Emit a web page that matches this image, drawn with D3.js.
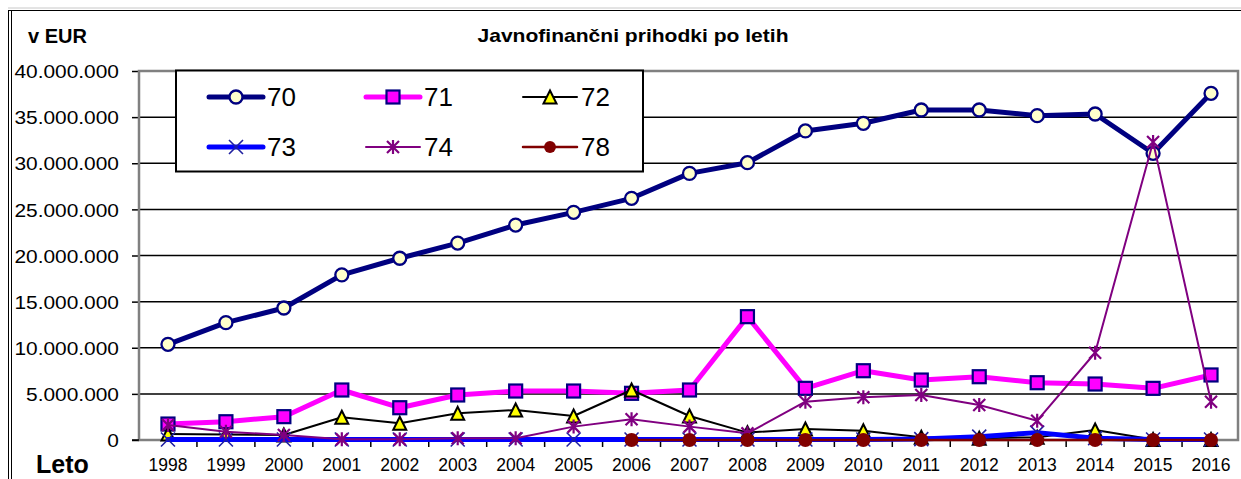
<!DOCTYPE html>
<html>
<head>
<meta charset="utf-8">
<script src="https://cdn.jsdelivr.net/npm/d3@7"></script>
<style>
  body { margin: 0; background: #fff; }
  text { font-family: "Liberation Sans", Arial, sans-serif; }
</style>
</head>
<body>
<svg id="chart" width="1241" height="479"></svg>
<script>
// data
var years = ["1998","1999","2000","2001","2002","2003","2004","2005","2006","2007","2008","2009","2010","2011","2012","2013","2014","2015","2016"];
var s70 = [10370000,12720000,14310000,17900000,19700000,21350000,23300000,24680000,26200000,28900000,30060000,33500000,34330000,35770000,35770000,35160000,35340000,31080000,37580000];
var s71 = [1730000,1980000,2530000,5420000,3500000,4880000,5310000,5310000,5060000,5420000,13370000,5600000,7510000,6500000,6860000,6210000,6070000,5600000,7050000];
var s72 = [650000,600000,540000,2460000,1810000,2890000,3250000,2600000,5420000,2600000,800000,1190000,1000000,300000,200000,300000,1080000,50000,50000];
var s73 = [50000,50000,50000,50000,50000,50000,50000,50000,50000,50000,50000,50000,50000,100000,360000,800000,200000,50000,50000];
var s74 = [1630000,900000,540000,70000,70000,180000,180000,1450000,2240000,1450000,720000,4150000,4630000,4880000,3790000,2090000,9460000,32300000,4150000];
var s78 = [null,null,null,null,null,null,null,null,0,0,0,0,0,0,0,0,0,0,0];
var seriesNames = ["70","71","72","73","74","78"];
var yTicks = [0,5000000,10000000,15000000,20000000,25000000,30000000,35000000,40000000];

var title = "Javnofinančni prihodki po letih";
var yUnit = "v EUR";
var xName = "Leto";

// looks of each series
var styles = {
  "70": {stroke: "#000080", width: 5, marker: "circle", fill: "#FFFFCC", mstroke: "#000080"},
  "71": {stroke: "#FF00FF", width: 5, marker: "square", fill: "#FF00FF", mstroke: "#000080"},
  "72": {stroke: "#000000", width: 2, marker: "triangle", fill: "#FFFF00", mstroke: "#000000"},
  "73": {stroke: "#0000FF", width: 5, marker: "x", fill: "none", mstroke: "#2020A0"},
  "74": {stroke: "#800080", width: 2, marker: "star", fill: "none", mstroke: "#800080"},
  "78": {stroke: "#800000", width: 2.5, marker: "dot", fill: "#800000", mstroke: "#800000"}
};
var allValues = [s70, s71, s72, s73, s74, s78];

var svg = d3.select("#chart");
var plotL = 139, plotR = 1238, plotT = 71, plotB = 440;

var x = d3.scaleBand().domain(years).range([plotL, 1240]);
var y = d3.scaleLinear().domain([0, 40000000]).range([plotB, plotT]);
function cx(d) { return x(d) + x.bandwidth() / 2; }

var loc = d3.formatLocale({decimal: ",", thousands: ".", grouping: [3], currency: ["", ""]});
var fmt = loc.format(",");

// outer frame
svg.append("line").attr("x1", 8).attr("x2", 1241).attr("y1", 8).attr("y2", 8).attr("stroke", "#c8c8c8");
svg.append("line").attr("x1", 8).attr("x2", 1241).attr("y1", 10.5).attr("y2", 10.5).attr("stroke", "#000");
svg.append("line").attr("x1", 8.5).attr("x2", 8.5).attr("y1", 10).attr("y2", 479).attr("stroke", "#000");
svg.append("line").attr("x1", 11.5).attr("x2", 11.5).attr("y1", 10).attr("y2", 479).attr("stroke", "#000");

// titles
svg.append("text").attr("x", 633).attr("y", 42).attr("text-anchor", "middle")
  .attr("font-size", 18).attr("font-weight", "bold")
  .attr("transform", "translate(633,0) scale(1.17,1) translate(-633,0)").text(title);
svg.append("text").attr("x", 28).attr("y", 43)
  .attr("font-size", 20).attr("font-weight", "bold").text(yUnit);
svg.append("text").attr("x", 36).attr("y", 473)
  .attr("font-size", 25).attr("font-weight", "bold").text(xName);

// gridlines
svg.append("g").selectAll("line")
  .data(yTicks.filter(function(t) { return t > 0 && t < 40000000; }))
  .enter().append("line")
  .attr("x1", plotL).attr("x2", plotR)
  .attr("y1", function(d) { return y(d); }).attr("y2", function(d) { return y(d); })
  .attr("stroke", "#000").attr("stroke-width", 1.5);

// y axis
var yAxis = svg.append("g").attr("transform", "translate(" + plotL + ",0)")
  .call(d3.axisLeft(y).tickValues(yTicks).tickFormat(fmt).tickSize(7).tickPadding(13));
yAxis.select(".domain").remove();
yAxis.selectAll(".tick line").attr("stroke", "#000").attr("stroke-width", 1.5);
// labels in the picture are drawn a bit wider than the font
yAxis.selectAll(".tick text").attr("font-size", 19).attr("font-family", "Liberation Sans, Arial, sans-serif")
  .attr("fill", "#000").attr("dy", "0.35em")
  .attr("x", 0).attr("transform", "translate(-20,0) scale(1.1,1)");

// x axis: ticks between categories
svg.append("g").selectAll("line")
  .data(years.slice(1))
  .enter().append("line")
  .attr("x1", function(d) { return x(d); }).attr("x2", function(d) { return x(d); })
  .attr("y1", plotB).attr("y2", plotB + 7)
  .attr("stroke", "#000").attr("stroke-width", 1.5);
svg.append("g").selectAll("text")
  .data(years)
  .enter().append("text")
  .attr("x", function(d) { return cx(d); }).attr("y", 471)
  .attr("text-anchor", "middle").attr("font-size", 17.5).text(function(d) { return d; });

// plot frame
svg.append("rect").attr("x", plotL).attr("y", plotT).attr("width", plotR - plotL).attr("height", plotB - plotT)
  .attr("fill", "none").attr("stroke", "#808080").attr("stroke-width", 2.5);
svg.append("line").attr("x1", plotL - 7).attr("x2", plotL).attr("y1", plotB).attr("y2", plotB)
  .attr("stroke", "#000").attr("stroke-width", 1.5);

//Draw one marker at the given point
function drawMarker(g, type, px, py, st, k) {
  var s = k || 1;
  if (type === "circle") {
    g.append("circle").attr("cx", px).attr("cy", py).attr("r", 6.5 * s)
      .attr("fill", st.fill).attr("stroke", st.mstroke).attr("stroke-width", 2.3);
  } else if (type === "square") {
    g.append("rect").attr("x", px - 6.5 * s).attr("y", py - 6.5 * s).attr("width", 13 * s).attr("height", 13 * s)
      .attr("fill", st.fill).attr("stroke", st.mstroke).attr("stroke-width", 2.2);
  } else if (type === "triangle") {
    var h = 6.5 * s;
    g.append("path").attr("d", "M" + px + "," + (py - h) + "L" + (px + h) + "," + (py + h) + "L" + (px - h) + "," + (py + h) + "Z")
      .attr("fill", st.fill).attr("stroke", st.mstroke).attr("stroke-width", 2);
  } else if (type === "x") {
    var a = 7 * s;
    g.append("path").attr("d", "M" + (px - a) + "," + (py - a) + "L" + (px + a) + "," + (py + a) +
      "M" + (px - a) + "," + (py + a) + "L" + (px + a) + "," + (py - a))
      .attr("stroke", st.mstroke).attr("stroke-width", 1.6).attr("fill", "none");
  } else if (type === "star") {
    var b = 6 * s;
    g.append("path").attr("d", "M" + (px - b) + "," + (py - b) + "L" + (px + b) + "," + (py + b) +
      "M" + (px - b) + "," + (py + b) + "L" + (px + b) + "," + (py - b) +
      "M" + px + "," + (py - b - 1) + "L" + px + "," + (py + b + 1))
      .attr("stroke", st.mstroke).attr("stroke-width", 2.2).attr("fill", "none");
  } else if (type === "dot") {
    g.append("circle").attr("cx", px).attr("cy", py).attr("r", 7 * s).attr("fill", st.fill);
  }
}

// series, in order so later ones sit on top
var line = d3.line()
  .defined(function(d) { return d.v !== null; })
  .x(function(d) { return cx(d.year); })
  .y(function(d) { return y(d.v); });

seriesNames.forEach(function(name, i) {
  var st = styles[name];
  var pts = years.map(function(yr, j) { return {year: yr, v: allValues[i][j]}; });
  var g = svg.append("g");
  g.append("path").datum(pts).attr("d", line)
    .attr("fill", "none").attr("stroke", st.stroke).attr("stroke-width", st.width)
    .attr("stroke-linejoin", "round").attr("stroke-linecap", "round");
  pts.filter(function(d) { return d.v !== null; }).forEach(function(d) {
    drawMarker(g, st.marker, cx(d.year), y(d.v), st);
  });
});

// legend
var lg = svg.append("g");
lg.append("rect").attr("x", 176).attr("y", 70.5).attr("width", 467).attr("height", 101)
  .attr("fill", "#fff").attr("stroke", "#000").attr("stroke-width", 2);
var colX = [209, 366, 523];
var rowY = [97, 147];
seriesNames.forEach(function(name, i) {
  var st = styles[name];
  var lx = colX[i % 3], ly = rowY[Math.floor(i / 3)];
  lg.append("line").attr("x1", lx).attr("x2", lx + 54).attr("y1", ly).attr("y2", ly)
    .attr("stroke", st.stroke).attr("stroke-width", st.width).attr("stroke-linecap", "round");
  drawMarker(lg, st.marker, lx + 27, ly, st, st.marker === "dot" ? 0.85 : 1);
  lg.append("text").attr("x", lx + 58).attr("y", ly + 9).attr("font-size", 26).text(name);
});
</script>
</body>
</html>
